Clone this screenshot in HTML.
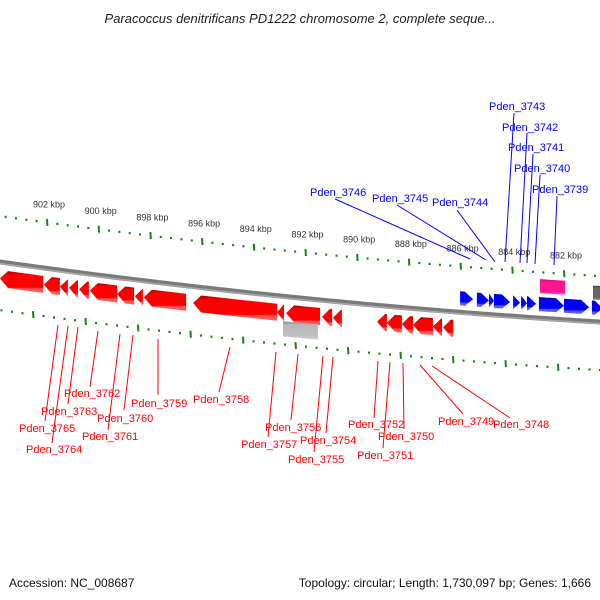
<!DOCTYPE html>
<html><head><meta charset="utf-8"><style>
body{margin:0;background:#fff;}
svg{display:block;font-family:"Liberation Sans","DejaVu Sans",sans-serif;}
</style></head><body>
<svg id="map" width="600" height="600" viewBox="0 0 600 600" xmlns="http://www.w3.org/2000/svg">
<defs>
<linearGradient id="gRed" x1="0" y1="0" x2="0" y2="1"><stop offset="0" stop-color="#b00000"/><stop offset="0.2" stop-color="#ff0000"/><stop offset="0.75" stop-color="#ff0000"/><stop offset="0.8" stop-color="#ff5050"/><stop offset="1" stop-color="#ff6060"/></linearGradient>
<linearGradient id="gBlue" x1="0" y1="0" x2="0" y2="1"><stop offset="0" stop-color="#0000a0"/><stop offset="0.2" stop-color="#0000ff"/><stop offset="0.75" stop-color="#0000ff"/><stop offset="0.8" stop-color="#5050ff"/><stop offset="1" stop-color="#6060ff"/></linearGradient>
<linearGradient id="gPink" x1="0" y1="0" x2="0" y2="1"><stop offset="0" stop-color="#c01070"/><stop offset="0.2" stop-color="#ff1493"/><stop offset="0.8" stop-color="#ff1493"/><stop offset="1" stop-color="#ff60b0"/></linearGradient>
<linearGradient id="gGray" x1="0" y1="0" x2="0" y2="1"><stop offset="0" stop-color="#888"/><stop offset="0.2" stop-color="#b8b8b8"/><stop offset="0.8" stop-color="#c0c0c0"/><stop offset="1" stop-color="#d8d8d8"/></linearGradient>
<linearGradient id="gDark" x1="0" y1="0" x2="0" y2="1"><stop offset="0" stop-color="#444"/><stop offset="0.2" stop-color="#666"/><stop offset="0.8" stop-color="#666"/><stop offset="1" stop-color="#999"/></linearGradient>
</defs>
<text x="300" y="23" text-anchor="middle" font-size="13" font-style="italic" fill="#222">Paracoccus denitrificans PD1222 chromosome 2, complete seque...</text>
<g id="ticks"></g>
<g id="backbone"></g>
<g id="features"></g>
<g stroke="#ff0000" stroke-width="1">
<line x1="98" y1="331" x2="90" y2="387"/><line x1="78" y1="327" x2="68" y2="404"/><line x1="58" y1="325" x2="45" y2="421"/><line x1="68" y1="326" x2="52" y2="443"/>
<line x1="133" y1="335" x2="124" y2="410"/><line x1="120" y1="334" x2="108" y2="430"/><line x1="158" y1="339" x2="158" y2="395"/><line x1="230" y1="347" x2="219" y2="392"/>
<line x1="276" y1="352" x2="268" y2="437"/><line x1="298" y1="354" x2="291" y2="420"/><line x1="323" y1="356" x2="314" y2="452"/><line x1="333" y1="357" x2="326" y2="433"/>
<line x1="378" y1="361" x2="374" y2="418"/><line x1="390" y1="362" x2="383" y2="448"/><line x1="403" y1="363" x2="404" y2="429"/><line x1="420" y1="365" x2="463" y2="414"/><line x1="432" y1="366" x2="510" y2="418"/>
</g>
<g font-size="11" fill="#ff0000">
<text x="64" y="397">Pden_3762</text>
<text x="41" y="415">Pden_3763</text>
<text x="19" y="432">Pden_3765</text>
<text x="26" y="453">Pden_3764</text>
<text x="97" y="422">Pden_3760</text>
<text x="82" y="440">Pden_3761</text>
<text x="131" y="407">Pden_3759</text>
<text x="193" y="403">Pden_3758</text>
<text x="241" y="448">Pden_3757</text>
<text x="265" y="431">Pden_3756</text>
<text x="288" y="463">Pden_3755</text>
<text x="300" y="444">Pden_3754</text>
<text x="348" y="428">Pden_3752</text>
<text x="357" y="459">Pden_3751</text>
<text x="378" y="440">Pden_3750</text>
<text x="438" y="425">Pden_3749</text>
<text x="493" y="428">Pden_3748</text>
</g>
<g stroke="#0000ff" stroke-width="1">
<line x1="514" y1="113" x2="505" y2="262"/><line x1="527" y1="133" x2="520" y2="263"/><line x1="533" y1="154" x2="527" y2="263"/><line x1="540" y1="175" x2="535" y2="264"/><line x1="557" y1="196" x2="554" y2="265"/>
<line x1="335" y1="199" x2="470" y2="259"/><line x1="397" y1="205" x2="486" y2="260"/><line x1="457" y1="210" x2="495" y2="262"/>
</g>
<g font-size="11" fill="#0000ff">
<text x="489" y="110">Pden_3743</text>
<text x="502" y="131">Pden_3742</text>
<text x="508" y="151">Pden_3741</text>
<text x="514" y="172">Pden_3740</text>
<text x="532" y="193">Pden_3739</text>
<text x="310" y="196">Pden_3746</text>
<text x="372" y="202">Pden_3745</text>
<text x="432" y="206">Pden_3744</text>
</g>
<text x="9" y="587" font-size="12" fill="#111">Accession: NC_008687</text>
<text x="591" y="587" font-size="12" fill="#111" text-anchor="end">Topology: circular; Length: 1,730,097 bp; Genes: 1,666</text>
</svg>
<script>
// data (kbp)
const outerTickLabels = [902, 900, 898, 896, 894, 892, 890, 888, 886, 884, 882];
const reverseStarts = [902.15, 901.50, 901.19, 900.80, 900.38, 899.29, 898.63, 898.29, 896.62, 893.10, 892.83, 891.44, 890.97, 890.59, 888.85, 888.27, 887.84, 887.07, 886.72, 886.29];
const reverseEnds   = [903.82, 902.12, 901.50, 901.15, 900.76, 900.34, 899.29, 898.60, 898.25, 896.35, 893.10, 892.75, 891.36, 890.94, 889.23, 888.85, 888.27, 887.84, 887.07, 886.68];
const forwardStarts = [886.02, 885.37, 884.90, 884.71, 883.97, 883.66, 883.43, 882.97, 882.00, 880.92];
const forwardEnds   = [885.52, 884.90, 884.71, 884.09, 883.70, 883.43, 883.08, 882.00, 881.03, 880.50];
const otherStarts = [882.93, 892.87, 880.88];
const otherEnds   = [881.96, 891.52, 880.40];
const otherKinds  = ['pink', 'gray', 'dark'];

const NS = 'http://www.w3.org/2000/svg';
function xOf(k){ return 47 + (902 - k) * 25.85; }
function xInner(k){ return 33 + (902 - k) * 26.25; }
function yb(x){ return 262 + 0.14 * x - 6.67e-5 * x * x; }
function mk(tag, attrs, parent){
  const e = document.createElementNS(NS, tag);
  for (const k in attrs) e.setAttribute(k, attrs[k]);
  parent.appendChild(e); return e;
}
const bb = document.getElementById('backbone');
let pts = [];
for (let x = -5; x <= 605; x += 5) pts.push(x + ',' + yb(x).toFixed(2));
const bl = mk('polyline', {points: pts.join(' '), fill: 'none', stroke: '#7a7a7a', 'stroke-width': 5}, bb);


const bl2 = mk('polyline', {points: pts.map(p => { const [a,b] = p.split(','); return a + ',' + (+b + 1.5); }).join(' '), fill: 'none', stroke: '#a8a8a8', 'stroke-width': 1.5}, bb);



const tg = document.getElementById('ticks');
function ring(xf, off, kmax, kmin, labels){
  for (let i = 0; i * 0.4 <= kmax - kmin + 1e-9; i++){
    const k = kmax - i * 0.4;
    const x = xf(k); if (x < -3 || x > 603) continue;
    const y = yb(x) + off;
    if (i % 5 === 0){
      const t = mk('line', {x1: x, y1: y - 3.5, x2: x + 0.4, y2: y + 3.5, stroke: '#118811', 'stroke-width': 2}, tg);
      
      
    } else {
      const d = mk('rect', {x: x - 1, y: y - 1, width: 2, height: 2.2, fill: '#118811'}, tg);
      
      
    }
  }
  if (labels) labels.forEach(k => {
    const x = xf(k);
    const t = mk('text', {x: x + 2, y: yb(x) + off - 15, 'font-size': 9, fill: '#333', 'text-anchor': 'middle'}, tg);
    t.textContent = k + ' kbp';
    
    
  });
}
ring(xOf, -46, 904, 880, outerTickLabels);
ring(xInner, 48, 904, 880, null);

const fg = document.getElementById('features');
function shape(k1, k2, a, b, dir, fill, name){
  let x1 = xOf(Math.max(k1, k2)), x2 = xOf(Math.min(k1, k2));
  const len = x2 - x1, h = dir === 0 ? 0 : Math.min(8, len);
  const top = [], bot = [];
  const bx1 = dir < 0 ? x1 + h : x1, bx2 = dir > 0 ? x2 - h : x2;
  for (let i = 0; i <= 6; i++){ const x = bx1 + (bx2 - bx1) * i / 6; top.push([x, yb(x) + a]); bot.unshift([x, yb(x) + b]); }
  let p = [];
  if (dir < 0){ p.push([x1, yb(x1) + (a + b) / 2]); }
  p = p.concat(top);
  if (dir > 0){ p.push([x2, yb(x2) + (a + b) / 2]); }
  p = p.concat(bot);
  const e = mk('polygon', {points: p.map(q => q[0].toFixed(1) + ',' + q[1].toFixed(1)).join(' '), fill: fill}, fg);
  
  
}
reverseStarts.forEach((s, i) => shape(s, reverseEnds[i], 8, 25, -1, 'url(#gRed)', 'reverse-gene'));
forwardStarts.forEach((s, i) => shape(s, forwardEnds[i], -21, -7, 1, 'url(#gBlue)', 'forward-gene'));
otherStarts.forEach((s, i) => {
  const kind = otherKinds[i];
  if (kind === 'pink') shape(s, otherEnds[i], -39, -25, 0, 'url(#gPink)', 'rna-feature');
  else if (kind === 'gray') shape(s, otherEnds[i], 25, 40, 0, 'url(#gGray)', 'other-feature');
  else shape(s, otherEnds[i], -36, -22, 0, 'url(#gDark)', 'other-feature');
});
</script>
</body></html>
